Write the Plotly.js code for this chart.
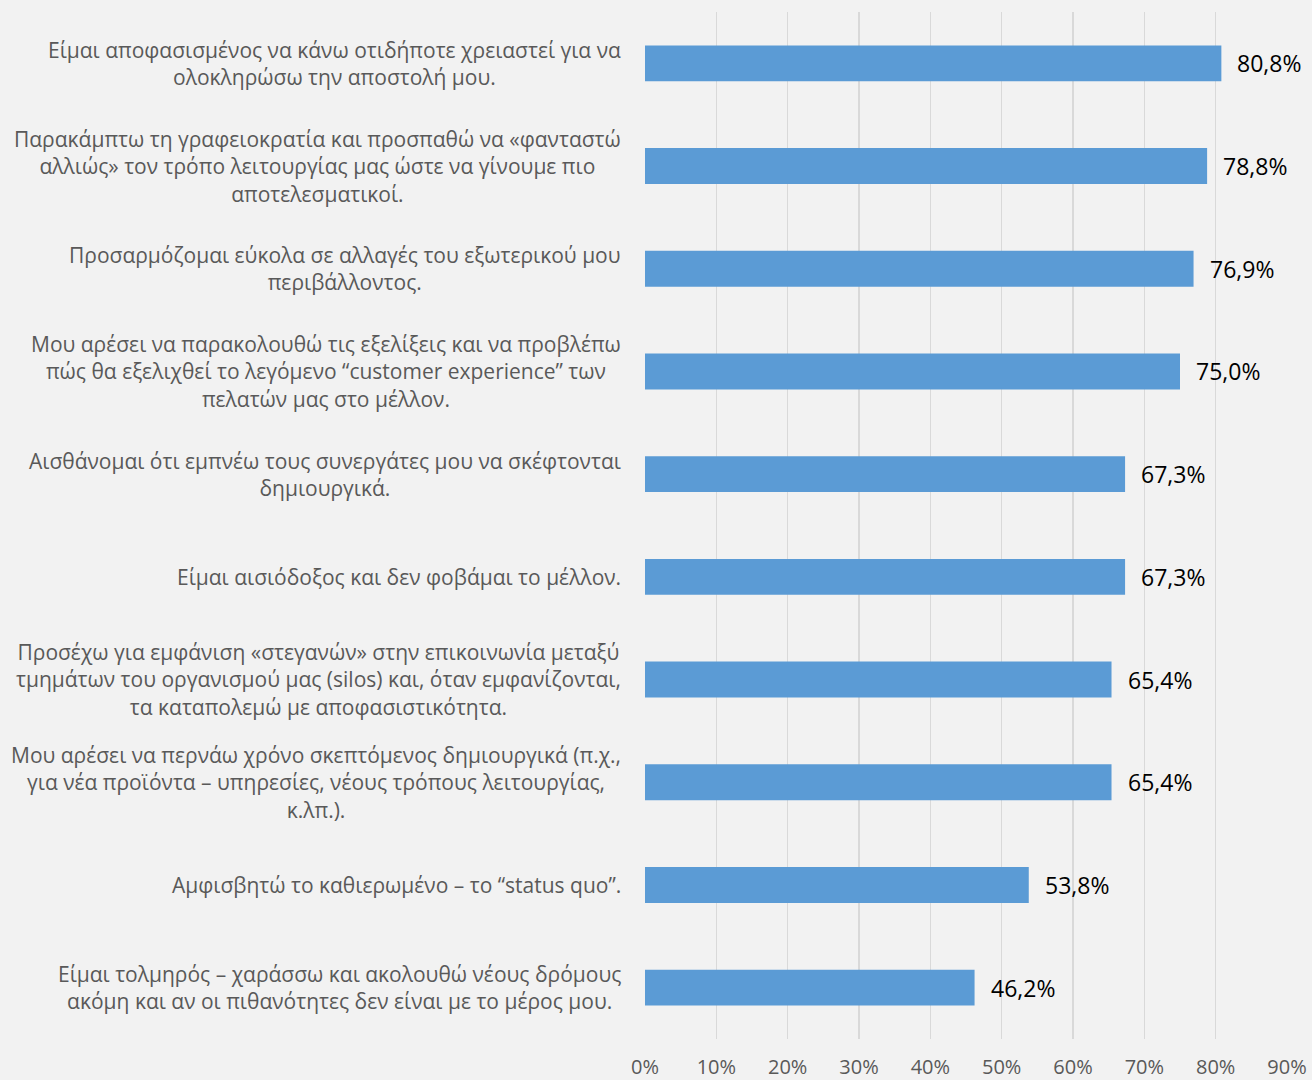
<!DOCTYPE html>
<html>
<head>
<meta charset="utf-8">
<script src="https://cdn.plot.ly/plotly-3.0.1.min.js"></script>
<style>
  html, body { margin: 0; padding: 0; background: #f2f2f2; }
  #chart { width: 1312px; height: 1080px; }
</style>
</head>
<body>
<div id="chart"></div>
<script>
const categories = [
  "Είμαι αποφασισμένος να κάνω οτιδήποτε χρειαστεί για να<br>ολοκληρώσω την αποστολή μου.",
  "Παρακάμπτω τη γραφειοκρατία και προσπαθώ να «φανταστώ<br>αλλιώς» τον τρόπο λειτουργίας μας ώστε να γίνουμε πιο<br>αποτελεσματικοί.",
  "Προσαρμόζομαι εύκολα σε αλλαγές του εξωτερικού μου<br>περιβάλλοντος.",
  "Μου αρέσει να παρακολουθώ τις εξελίξεις και να προβλέπω<br>πώς θα εξελιχθεί το λεγόμενο “customer experience” των<br>πελατών μας στο μέλλον.",
  "Αισθάνομαι ότι εμπνέω τους συνεργάτες μου να σκέφτονται<br>δημιουργικά.",
  "Είμαι αισιόδοξος και δεν φοβάμαι το μέλλον.",
  "Προσέχω για εμφάνιση «στεγανών» στην επικοινωνία μεταξύ<br>τμημάτων του οργανισμού μας (silos) και, όταν εμφανίζονται,<br>τα καταπολεμώ με αποφασιστικότητα.",
  "Μου αρέσει να περνάω χρόνο σκεπτόμενος δημιουργικά (π.χ.,<br>για νέα προϊόντα – υπηρεσίες, νέους τρόπους λειτουργίας,<br>κ.λπ.).",
  "Αμφισβητώ το καθιερωμένο – το “status quo”.",
  "Είμαι τολμηρός – χαράσσω και ακολουθώ νέους δρόμους<br>ακόμη και αν οι πιθανότητες δεν είναι με το μέρος μου."
];
const values = [80.8, 78.8, 76.9, 75.0, 67.3, 67.3, 65.4, 65.4, 53.8, 46.2];
const tickValues = [0, 10, 20, 30, 40, 50, 60, 70, 80, 90];
const tickLabels = ["0%", "10%", "20%", "30%", "40%", "50%", "60%", "70%", "80%", "90%"];

const FONT = "'Open Sans', 'Noto Sans', sans-serif";

const fmt = v => v.toFixed(1).replace('.', ',') + '%';

const trace = {
  type: 'bar',
  orientation: 'h',
  x: values,
  y: categories,
  width: 0.35,
  marker: { color: '#5b9bd5' },
  hoverinfo: 'none'
};

const annotations = [];
categories.forEach((c, i) => {
  annotations.push({
    xref: 'paper', yref: 'y', x: 0, y: c, xanchor: 'right', yanchor: 'middle',
    xshift: -22, text: c, showarrow: false, align: 'center',
    font: { family: FONT, size: 21, color: '#595959' }
  });
  annotations.push({
    xref: 'x', yref: 'y', x: values[i], y: c, xanchor: 'left', yanchor: 'middle',
    xshift: 14, text: fmt(values[i]), showarrow: false,
    font: { family: FONT, size: 23, color: '#000000' }
  });
});

const layout = {
  width: 1312, height: 1080,
  paper_bgcolor: '#f2f2f2', plot_bgcolor: '#f2f2f2',
  margin: { l: 645, r: 25, t: 12, b: 41 },
  showlegend: false,
  font: { family: FONT },
  xaxis: {
    range: [0, 90], tickvals: tickValues, ticktext: tickLabels,
    showgrid: true, gridcolor: '#d9d9d9', gridwidth: 1.5,
    zeroline: false, showline: false,
    ticks: 'outside', ticklen: 10, tickcolor: 'rgba(0,0,0,0)',
    tickfont: { family: FONT, size: 20, color: '#595959' },
    fixedrange: true
  },
  yaxis: {
    type: 'category', autorange: 'reversed',
    showticklabels: false, showgrid: false, zeroline: false, showline: false,
    fixedrange: true
  },
  annotations: annotations
};

Plotly.newPlot('chart', [trace], layout, { displayModeBar: false, staticPlot: true });
</script>
</body>
</html>
